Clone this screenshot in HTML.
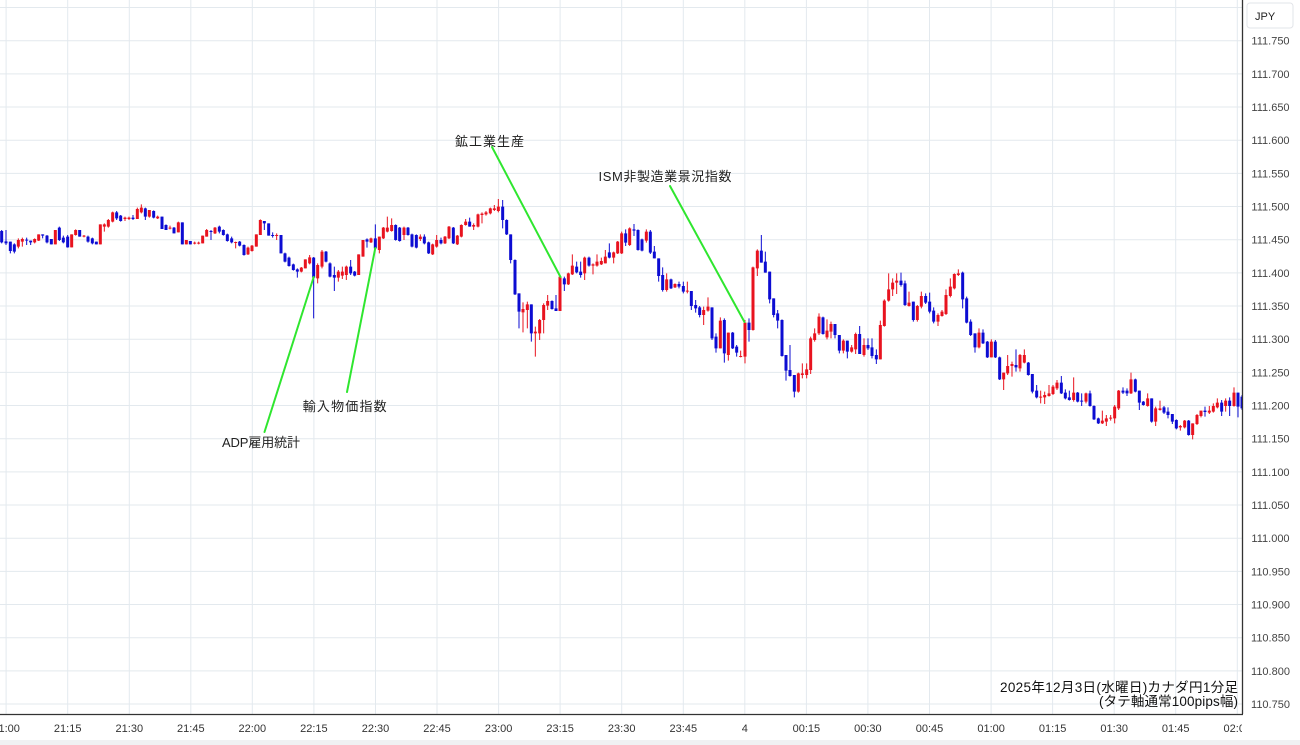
<!DOCTYPE html>
<html><head><meta charset="utf-8"><style>
html,body{margin:0;padding:0;background:#fff;}
svg{display:block;}
text{font-family:"Liberation Sans","Noto Sans CJK JP",sans-serif;}
</style></head><body>
<svg width="1300" height="745" viewBox="0 0 1300 745" xmlns="http://www.w3.org/2000/svg">
<defs><clipPath id="pc"><rect x="0" y="0" width="1242" height="714"/></clipPath></defs>
<rect width="1300" height="745" fill="#fff"/>
<g stroke="#e3e9ee" stroke-width="1">
<path d="M0 7.5H1242M0 40.7H1242M0 73.9H1242M0 107H1242M0 140.2H1242M0 173.4H1242M0 206.5H1242M0 239.7H1242M0 272.9H1242M0 306H1242M0 339.2H1242M0 372.4H1242M0 405.5H1242M0 438.7H1242M0 471.9H1242M0 505H1242M0 538.2H1242M0 571.4H1242M0 604.5H1242M0 637.7H1242M0 670.9H1242M0 704H1242"/>
<path d="M6.1 0V714M67.7 0V714M129.3 0V714M190.8 0V714M252.3 0V714M313.9 0V714M375.5 0V714M437 0V714M498.6 0V714M560.1 0V714M621.7 0V714M683.3 0V714M744.8 0V714M806.4 0V714M867.9 0V714M929.5 0V714M991.1 0V714M1052.6 0V714M1114.2 0V714M1175.7 0V714M1237.3 0V714"/>
</g>
<g clip-path="url(#pc)" fill="none">
<g transform="translate(0,195) scale(0.33333)">
<path stroke="#e8131f" stroke-width="3" d="M55 130V160M67 128V155M104 130V145M116 118V138M166 105V148M215 118V157M227 103V122M252 120V127M301 88V148M313 85V110M325 72V98M338 50V82M375 65V78M387 65V75M412 38V72M424 28V55M448 45V68M473 62V72M510 92V103M535 80V112M559 135V148M584 140V148M596 140V148M608 122V145M620 102V125"/>
<path stroke="#e8131f" stroke-width="9" d="M55 135V155M67 132V140M104 132V142M116 118V137M166 105V148M215 118V157M227 105V120M252 122V125M301 88V148M313 88V95M325 75V95M338 52V80M375 68V72M387 68V72M412 42V72M424 38V52M448 45V65M473 65V70M510 98V101M535 82V112M559 135V148M584 143V146M596 143V146M608 122V145M620 105V125"/>
<path stroke="#0c0cd2" stroke-width="3" d="M5 105V145M18 105V150M31 140V175M43 145V175M80 128V150M92 137V150M128 118V130M141 120V145M154 132V148M178 95V138M190 122V145M203 120V158M239 105V125M264 122V143M277 128V148M289 140V148M350 48V75M362 60V80M399 60V75M436 38V75M461 46V70M486 65V102M498 88V105M522 96V115M547 82V148M571 138V148"/>
<path stroke="#0c0cd2" stroke-width="9" d="M5 108V142M18 139V145M31 140V168M43 148V170M80 134V137M92 137V142M128 118V122M141 122V142M154 132V148M178 98V135M190 128V142M203 125V157M239 105V125M264 125V140M277 130V145M289 140V148M350 52V70M362 62V78M399 68V72M436 40V65M461 48V68M486 65V102M498 90V105M522 98V115M547 82V148M571 138V148"/>
</g>
<g transform="translate(205,205) scale(0.33333)">
<path stroke="#e8131f" stroke-width="3" d="M30 66V87M92 110V130M129 125V150M141 120V140M154 88V125M166 43V90M215 85V105M289 186V202M301 163V190M314 150V178M338 175V235M351 135V190M400 195V230M412 185V222M424 182V225M461 148V210M474 105V155M498 98V114M523 95V145M535 66V102M547 35V82M560 40V80M597 65V105"/>
<path stroke="#e8131f" stroke-width="9" d="M30 68V85M92 111V114M129 128V148M141 122V138M154 88V125M166 45V90M215 90V93M289 188V200M301 163V190M314 157V175M338 180V220M351 140V185M400 200V218M412 200V212M424 185V210M461 148V210M474 105V155M498 100V112M523 95V135M535 68V100M547 68V80M560 60V78M597 68V90"/>
<path stroke="#0c0cd2" stroke-width="3" d="M18 75V105M43 62V85M55 73V92M67 86V110M80 95V115M104 108V124M117 118V152M178 48V75M191 55V92M203 82V98M228 90V145M240 143V172M252 155V185M265 176V197M277 190V218M326 156V340M363 138V172M375 172V217M388 185V258M437 165V210M449 198V214M486 100V128M511 58V135M572 58V107M584 66V110M609 66V92M621 86V127"/>
<path stroke="#0c0cd2" stroke-width="9" d="M18 78V81M43 65V80M55 75V90M67 88V108M80 100V112M104 110V122M117 120V150M178 48V55M191 55V92M203 90V93M228 90V145M240 145V170M252 158V183M265 178V195M277 193V200M326 158V218M363 140V170M375 175V215M388 210V218M437 185V205M449 200V212M486 103V110M511 100V130M572 60V105M584 68V108M609 68V90M621 88V125"/>
</g>
<g transform="translate(410,195) scale(0.33333)">
<path stroke="#e8131f" stroke-width="3" d="M31 118V138M68 146V180M80 120V158M105 123V147M117 93V132M142 120V150M154 88V127M167 72V92M191 85V105M204 56V97M216 52V85M228 48V62M241 38V58M253 30V48M265 12V52M339 322V412M352 320V400M376 395V485M389 372V435M401 325V415M413 300V345M450 245V348M475 233V270M487 178V240M524 185V255M549 205V238M561 178V215M574 188V210M586 165V205M611 170V205M623 138V177"/>
<path stroke="#e8131f" stroke-width="9" d="M31 125V132M68 148V178M80 135V155M105 125V145M117 95V130M142 122V148M154 90V125M167 80V90M191 90V95M204 58V95M216 56V60M228 52V58M241 40V55M253 40V45M265 35V48M339 342V352M352 328V345M376 410V415M389 375V415M401 330V375M413 318V332M450 245V348M475 235V268M487 212V238M524 188V235M549 208V212M561 200V212M574 198V208M586 185V205M611 172V188M623 140V175"/>
<path stroke="#0c0cd2" stroke-width="3" d="M19 118V160M43 118V148M56 140V177M93 128V148M130 96V147M179 68V95M278 15V100M290 73V120M302 118V205M315 193V300M327 295V400M364 328V440M426 316V344M438 300V348M463 245V288M500 200V235M512 200V248M537 185V215M598 145V190"/>
<path stroke="#0c0cd2" stroke-width="9" d="M19 120V158M43 125V145M56 142V175M93 135V145M130 98V145M179 80V95M278 35V75M290 75V118M302 118V195M315 195V298M327 295V350M364 328V415M426 318V342M438 340V348M463 250V268M500 215V232M512 230V240M537 188V212M598 172V188"/>
</g>
<g transform="translate(615,220) scale(0.33333)">
<path stroke="#e8131f" stroke-width="3" d="M20 35V102M44 22V78M94 28V68M155 160V215M180 190V204M217 185V220M266 260V315M279 232V275M316 292V385M340 338V422M377 392V412M390 300V430M414 140V332M427 88V168M550 458V518M562 430V475M575 430V475M587 350V462M599 325V365M612 280V345"/>
<path stroke="#e8131f" stroke-width="9" d="M20 40V100M44 25V75M94 35V62M155 178V210M180 192V202M217 212V215M266 270V285M279 260V272M316 302V385M340 338V405M377 408V411M390 308V410M414 142V330M427 92V145M550 460V515M562 460V465M575 448V465M587 355V450M599 340V360M612 290V340"/>
<path stroke="#0c0cd2" stroke-width="3" d="M32 28V78M57 12V48M69 28V92M81 56V94M106 30V102M118 78V115M131 115V185M143 142V215M168 176V207M192 185V205M205 185V220M229 213V270M242 240V278M254 258V292M291 262V360M303 340V398M328 295V428M353 336V387M365 375V410M402 295V365M439 45V128M451 95V158M464 155V250M476 235V292M488 270V325M501 298V410M513 405V482M525 375V470M538 465V532M624 290V344"/>
<path stroke="#0c0cd2" stroke-width="9" d="M32 40V68M57 28V32M69 30V90M81 58V92M106 35V98M118 95V115M131 115V168M143 165V210M168 178V205M192 192V200M205 198V215M229 213V258M242 255V265M254 262V285M291 262V355M303 350V385M328 300V400M353 338V385M365 380V398M402 308V330M439 92V128M451 125V158M464 155V238M476 235V285M488 280V302M501 300V408M513 405V452M525 450V468M538 465V515M624 292V342"/>
</g>
<g transform="translate(820,260) scale(0.33333)">
<path stroke="#e8131f" stroke-width="3" d="M21 178V238M33 185V235M70 238V280M95 255V278M107 218V282M132 235V290M181 182V298M193 118V200M206 40V125M218 55V108M230 40V102M267 95V140M292 135V185M304 95V145M354 160V198M366 150V170M378 88V165M391 55V112M403 40V88M415 28V48M477 205V265M514 238V292M551 338V390M563 285V345M576 305V350M600 282V335M613 268V310"/>
<path stroke="#e8131f" stroke-width="9" d="M21 212V232M33 192V215M70 242V272M95 262V275M107 222V268M132 255V285M181 195V298M193 122V198M206 88V122M218 68V88M230 62V68M267 128V138M292 138V180M304 108V140M354 165V185M366 155V168M378 105V162M391 80V108M403 42V85M415 40V45M477 218V262M514 245V292M551 338V358M563 318V340M576 312V318M600 285V325M613 285V308"/>
<path stroke="#0c0cd2" stroke-width="3" d="M45 192V235M58 225V280M82 242V295M119 198V282M144 235V270M156 235V295M169 268V312M243 38V80M255 62V138M280 125V185M317 100V132M329 98V160M341 142V190M428 35V145M440 110V190M452 178V228M465 220V278M489 208V252M502 243V294M526 240V294M539 290V360M588 268V335M625 306V347"/>
<path stroke="#0c0cd2" stroke-width="9" d="M45 192V225M58 225V272M82 242V275M119 222V282M144 255V265M156 262V288M169 285V298M243 62V75M255 70V135M280 125V180M317 108V128M329 125V155M341 152V185M428 38V118M440 115V188M452 185V225M465 220V262M489 218V250M502 245V292M526 245V292M539 292V358M588 315V322M625 308V345"/>
</g>
<g transform="translate(1025,340) scale(0.33333)">
<path stroke="#e8131f" stroke-width="3" d="M47 152V190M59 155V192M72 135V170M84 135V165M96 120V150M146 112V185M183 158V190M232 212V252M244 225V258M257 225V242M269 195V250M281 150V210M318 98V162M368 160V200M392 200V258M405 182V212M466 255V272M479 240V265M503 250V298M516 222V255M528 212V232M553 198V222M565 190V218M577 175V205M602 175V215M627 142V200"/>
<path stroke="#e8131f" stroke-width="9" d="M47 170V173M59 165V172M72 160V168M84 140V162M96 128V145M146 158V180M183 160V185M232 242V250M244 235V245M257 233V236M269 200V235M281 152V205M318 118V160M368 175V198M392 205V245M405 205V210M466 258V262M479 242V262M503 250V285M516 225V252M528 212V228M553 212V218M565 198V215M577 188V202M602 182V198M627 158V198"/>
<path stroke="#0c0cd2" stroke-width="3" d="M22 102V160M35 135V175M109 108V162M121 148V178M133 152V182M158 156V187M170 160V198M195 152V200M207 196V240M220 233V252M294 142V162M306 145V168M331 116V157M343 152V210M355 183V197M380 175V248M417 198V222M429 202V235M442 222V252M454 238V268M491 240V287M540 200V230M590 180V228M614 172V228M639 158V232M651 165V210"/>
<path stroke="#0c0cd2" stroke-width="9" d="M22 102V155M35 152V172M109 128V160M121 158V175M133 172V180M158 158V185M170 182V185M195 160V198M207 198V238M220 235V250M294 152V158M306 152V160M331 118V155M343 152V188M355 185V195M380 175V245M417 202V218M429 215V225M442 222V245M454 240V265M491 242V285M540 212V216M590 188V215M614 182V198M639 158V200M651 170V205"/>
</g>
<g stroke="#2fe62f" stroke-width="2" stroke-linecap="round">
<line x1="313.7" y1="277" x2="264.5" y2="432"/>
<line x1="375.3" y1="248" x2="347" y2="392"/>
<line x1="492" y1="147" x2="560.5" y2="277"/>
<line x1="670" y1="186" x2="744.5" y2="322"/>
</g>
</g>
<g font-size="13" fill="#222" text-anchor="middle">
<text x="261" y="447" textLength="78">ADP雇用統計</text>
<text x="344.7" y="411" textLength="84">輸入物価指数</text>
<text x="489.5" y="146" textLength="69">鉱工業生産</text>
<text x="665" y="181" textLength="133">ISM非製造業景況指数</text>
</g>
<g font-size="13.5" fill="#111" text-anchor="end">
<text x="1238" y="692" textLength="238">2025年12月3日(水曜日)カナダ円1分足</text>
<text x="1238" y="706" textLength="139">(タテ軸通常100pips幅)</text>
</g>
<line x1="1242.5" y1="0" x2="1242.5" y2="714" stroke="#333" stroke-width="1.3"/>
<line x1="0" y1="714.5" x2="1243" y2="714.5" stroke="#333" stroke-width="1.3"/>
<rect x="0" y="740" width="1300" height="5" fill="#f0f1f3"/>
<svg x="0" y="715" width="1242" height="25">
<g font-size="11" fill="#333" text-anchor="middle">
<text x="6.1" y="17">21:00</text>
<text x="67.7" y="17">21:15</text>
<text x="129.3" y="17">21:30</text>
<text x="190.8" y="17">21:45</text>
<text x="252.3" y="17">22:00</text>
<text x="313.9" y="17">22:15</text>
<text x="375.5" y="17">22:30</text>
<text x="437" y="17">22:45</text>
<text x="498.6" y="17">23:00</text>
<text x="560.1" y="17">23:15</text>
<text x="621.7" y="17">23:30</text>
<text x="683.3" y="17">23:45</text>
<text x="744.8" y="17">4</text>
<text x="806.4" y="17">00:15</text>
<text x="867.9" y="17">00:30</text>
<text x="929.5" y="17">00:45</text>
<text x="991.1" y="17">01:00</text>
<text x="1052.6" y="17">01:15</text>
<text x="1114.2" y="17">01:30</text>
<text x="1175.7" y="17">01:45</text>
<text x="1237.3" y="17">02:00</text>
</g>
</svg>
<rect x="1247" y="3" width="46" height="25" rx="3" fill="#fff" stroke="#e2e4e8"/>
<text x="1255" y="20" font-size="11" fill="#222">JPY</text>
<g font-size="11" fill="#444" text-anchor="middle">
<text x="1270.5" y="44.7">111.750</text>
<text x="1270.5" y="77.9">111.700</text>
<text x="1270.5" y="111">111.650</text>
<text x="1270.5" y="144.2">111.600</text>
<text x="1270.5" y="177.4">111.550</text>
<text x="1270.5" y="210.5">111.500</text>
<text x="1270.5" y="243.7">111.450</text>
<text x="1270.5" y="276.9">111.400</text>
<text x="1270.5" y="310">111.350</text>
<text x="1270.5" y="343.2">111.300</text>
<text x="1270.5" y="376.4">111.250</text>
<text x="1270.5" y="409.5">111.200</text>
<text x="1270.5" y="442.7">111.150</text>
<text x="1270.5" y="475.9">111.100</text>
<text x="1270.5" y="509">111.050</text>
<text x="1270.5" y="542.2">111.000</text>
<text x="1270.5" y="575.4">110.950</text>
<text x="1270.5" y="608.5">110.900</text>
<text x="1270.5" y="641.7">110.850</text>
<text x="1270.5" y="674.9">110.800</text>
<text x="1270.5" y="708">110.750</text>
</g>
</svg>
</body></html>
